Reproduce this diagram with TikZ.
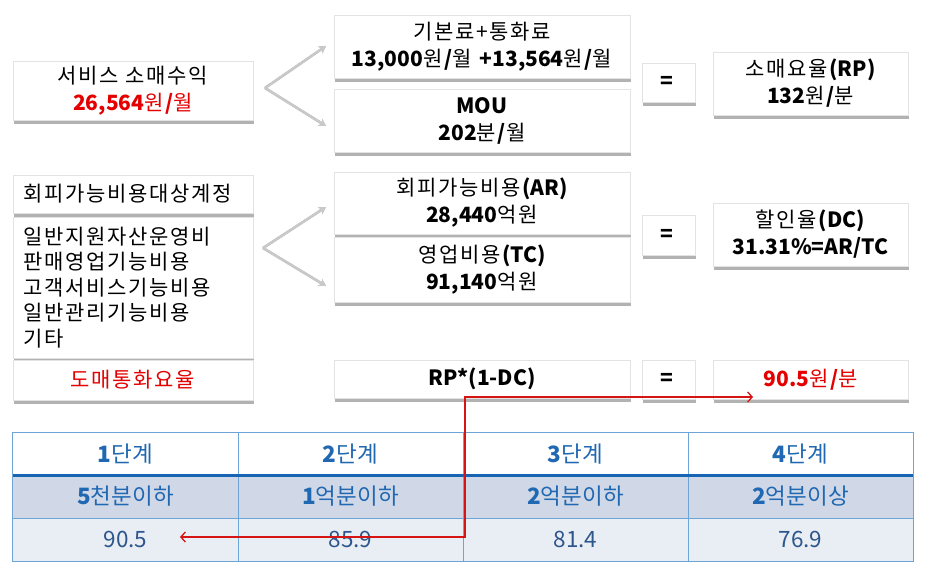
\documentclass[tikz,border=0pt]{standalone}
\usepackage{fontspec}
\setmainfont{Noto Sans CJK KR}[LetterSpace=8, BoldFeatures={LetterSpace=0}]
\newfontfamily\tfont{Noto Sans CJK KR}
\usetikzlibrary{shadows,arrows.meta}
\definecolor{myred}{RGB}{228,0,0}
\definecolor{arrred}{RGB}{215,20,20}
\definecolor{tblue}{RGB}{32,104,178}
\definecolor{tnum}{RGB}{44,86,140}
\definecolor{tline}{RGB}{110,165,215}
\definecolor{tthick}{RGB}{22,100,180}
\definecolor{rowa}{RGB}{208,216,232}
\definecolor{rowb}{RGB}{233,237,244}
\newcommand\B[1]{\textbf{#1}}
\begin{document}
\begin{tikzpicture}[x=1pt,y=-1pt,
  box/.style={draw=gray!22, fill=white, line width=0.6pt, inner sep=0pt, align=center,
    font=\fontsize{21}{27}\selectfont,
    drop shadow={shadow xshift=1pt, shadow yshift=-3.5pt, fill=black!55, opacity=0.55}},
  eqbox/.style={box, text width=17pt, align=left},
  lbox/.style={box, text width=220pt, align=left, font=\fontsize{21}{25.5}\selectfont},
  cell/.style={minimum width=225pt, minimum height=43pt, inner sep=0pt, draw=none,
    font=\tfont\fontsize{22.5}{26}\selectfont},
  garrow/.style={draw=gray!42, line width=2.4pt, -{Stealth[length=7pt,width=8pt]}},
  gshade/.style={draw=gray!65, line width=2.4pt, -{Stealth[length=7pt,width=8pt]}},
  redarr/.style={draw=arrred, line width=1.3pt, {Straight Barb[length=4.5pt,width=10pt]}-{Straight Barb[length=4.5pt,width=10pt]}}
]
\useasboundingbox[fill=white] (0,0) rectangle (925,573);

% --- row 1
\node[box, minimum width=240pt, minimum height=59pt] (svc) at (133,90.5)
  {서비스 소매수익\\{\color{myred}\B{26,564}원\B{/}월}};
\node[box, minimum width=296pt, minimum height=63pt] (base) at (482,46.5)
  {기본료+통화료\\\B{13,000}원\B{/}월 \B{+13,564}원\B{/}월};
\node[box, minimum width=296pt, minimum height=63pt] (mou) at (482,120.5)
  {\B{MOU}\\\B{202}분\B{/}월};
\node[eqbox, minimum width=53pt, minimum height=39pt] (eq1) at (668.5,82.5) {\B{=}};
\node[box, minimum width=195pt, minimum height=63pt] (rp) at (810.5,83.5)
  {소매요율\B{(RP)}\\\B{132}원\B{/}분};

% --- row 2
\node[lbox, minimum width=240pt, minimum height=38pt] (avt) at (133,194) {회피가능비용대상계정};
\node[lbox, minimum width=240pt, minimum height=141pt] (lst) at (133,287.5)
  {일반지원자산운영비\\판매영업기능비용\\고객서비스기능비용\\일반관리기능비용\\기타};
\node[box, minimum width=296pt, minimum height=62pt] (ar) at (482,203)
  {회피가능비용\B{(AR)}\\\B{28,440}억원};
\node[box, minimum width=296pt, minimum height=65pt] (tc) at (482,269.5)
  {영업비용\B{(TC)}\\\B{91,140}억원};
\node[eqbox, minimum width=53pt, minimum height=40pt] (eq2) at (668.5,235) {\B{=}};
\node[box, minimum width=195pt, minimum height=63pt] (dc) at (810.5,234.5)
  {할인율\B{(DC)}\\\B{31.31\%=AR/TC}};

% --- row 3
\node[box, minimum width=240pt, minimum height=40pt, text=myred] (whole) at (133,380) {도매통화요율};
\node[box, minimum width=296pt, minimum height=38pt] (rpdc) at (482,379) {\B{RP*(1-DC)}};
\node[eqbox, minimum width=53pt, minimum height=39pt] (eq3) at (668.5,379.5) {\B{=}};
\node[box, minimum width=195pt, minimum height=39pt, text=myred] (res) at (810.5,379.5) {\B{90.5}원\B{/}분};

% --- gray branching arrows
\coordinate (v1) at (265,88);
\coordinate (v1a) at (326,46);
\coordinate (v1b) at (326,126);
\coordinate (v2) at (263,248);
\coordinate (v2a) at (326,207);
\coordinate (v2b) at (326,286);
\begin{scope}[yshift=-1.5pt]
\draw[gshade] (v1) -- (v1a);
\draw[gshade] (v1) -- (v1b);
\draw[gshade] (v2) -- (v2a);
\draw[gshade] (v2) -- (v2b);
\end{scope}
\draw[garrow] (v1) -- (v1a);
\draw[garrow] (v1) -- (v1b);
\draw[garrow] (v2) -- (v2a);
\draw[garrow] (v2) -- (v2b);

% --- table
\fill[rowa] (13,475) rectangle (913,518);
\fill[rowb] (13,518) rectangle (913,561);
\node[cell, text=tblue] (h1) at (125.5,454) {\B{1}단계};
\node[cell, text=tblue] (h2) at (350.5,454) {\B{2}단계};
\node[cell, text=tblue] (h3) at (575.5,454) {\B{3}단계};
\node[cell, text=tblue] (h4) at (800.5,454) {\B{4}단계};
\node[cell, text=tblue] (a1) at (125.5,496.5) {\B{5}천분이하};
\node[cell, text=tblue] (a2) at (350.5,496.5) {\B{1}억분이하};
\node[cell, text=tblue] (a3) at (575.5,496.5) {\B{2}억분이하};
\node[cell, text=tblue] (a4) at (800.5,496.5) {\B{2}억분이상};
\node[cell, text=tnum] (b1) at (125.5,539.5) {90.5};
\node[cell, text=tnum] (b2) at (350.5,539.5) {85.9};
\node[cell, text=tnum] (b3) at (575.5,539.5) {81.4};
\node[cell, text=tnum] (b4) at (800.5,539.5) {76.9};
\draw[tline, line width=1pt] (h1.north west) rectangle (b4.south east);
\draw[tline, line width=1pt] (h1.north east) -- (b1.south east);
\draw[tline, line width=1pt] (h2.north east) -- (b2.south east);
\draw[tline, line width=1pt] (h3.north east) -- (b3.south east);
\draw[tline, line width=1pt] (a1.south west) -- (a4.south east);
\draw[tthick, line width=3.5pt] (h1.south west) -- (h4.south east);

% --- red arrow
\coordinate (r1) at (180,537);
\coordinate (r2) at (465,537);
\coordinate (r3) at (465,397);
\coordinate (r4) at (753,397);
\draw[redarr] (r1) -- (r2) -- (r3) -- (r4);
\end{tikzpicture}
\end{document}
